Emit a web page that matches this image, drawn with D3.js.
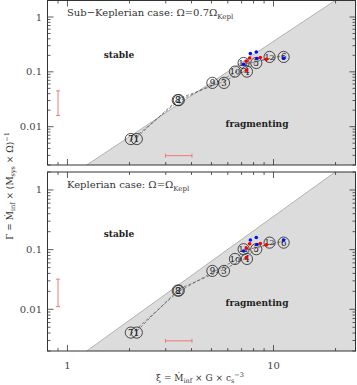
<!DOCTYPE html>
<html><head><meta charset="utf-8">
<script src="https://cdn.jsdelivr.net/npm/d3@7"></script>
<style>body{margin:0;background:#fff}svg{display:block}</style>
</head><body>
<svg id="c" width="357" height="385"></svg>
<script>
// ---- data ----
const idsA = [1, 2, 3, 4, 5, 6];
const idsB = [7, 8, 9, 10, 11, 12];
const xiA = [2.17, 3.47, 5.75, 7.43, 8.25, 11.2];
const xiB = [2.03, 3.43, 5.05, 6.50, 7.16, 9.57];
const gammaSub = [0.00595, 0.0305, 0.0629, 0.101, 0.145, 0.187];
const gammaKep = [0.00407, 0.0206, 0.0440, 0.0698, 0.1016, 0.131];
const xiBlue = [7.72, 8.25, 7.16, 8.31, 11.19];
const gammaSubBlue = [0.215, 0.230, 0.137, 0.175, 0.177];
const gammaKepBlue = [0.145, 0.160, 0.095, 0.122, 0.145];
const xiRed = [7.66, 7.38, 7.38, 8.63, 9.23];
const gammaSubRed = [0.179, 0.156, 0.107, 0.182, 0.169];
const gammaKepRed = [0.125, 0.1056, 0.074, 0.127, 0.120];
const boundaryXi = [1.24, 19.9];
const boundaryGamma = [0.002, 2];
const errVx = 0.90;
const errVySub = [0.016, 0.045];
const errVyKep = [0.0111, 0.032];
const errHx = [2.99, 4.02];
const errHy = 0.00296;
const xTicks = [1, 10];
const yTicks = [1, 0.1, 0.01];
const xDomain = [0.8, 25];
const yDomain = [0.002, 2];

const svg = d3.select("#c");
const L = 47.5, R = 355.5;
const x = d3.scaleLog().domain(xDomain).range([L, R]);
const serif = "'DejaVu Serif', serif";

const panels = [
  {top: 0.5, bottom: 165, gamma: gammaSub, blue: gammaSubBlue, red: gammaSubRed, errVy: errVySub,
   title: ["Sub\u2212Keplerian case: \u03A9=0.7\u03A9", "Kepl"], stableY: 58, fragY: 127, titleY: 16, xlabels: false},
  {top: 172, bottom: 351, gamma: gammaKep, blue: gammaKepBlue, red: gammaKepRed, errVy: errVyKep,
   title: ["Keplerian case: \u03A9=\u03A9", "Kepl"], stableY: 237, fragY: 306, titleY: 188, xlabels: true}
];

panels.forEach((p, pi) => {
  const y = d3.scaleLog().domain(yDomain).range([p.bottom, p.top]);
  const g = svg.append("g");
  const cid = "clip" + pi;
  svg.append("clipPath").attr("id", cid).append("rect")
    .attr("x", L).attr("y", p.top).attr("width", R - L).attr("height", p.bottom - p.top);
  const pg = g.append("g").attr("clip-path", `url(#${cid})`);

  // fragmenting region: below the boundary line
  const bx0 = x(boundaryXi[0]), by0 = y(boundaryGamma[0]);
  const bx1 = x(boundaryXi[1]), by1 = y(boundaryGamma[1]);
  const slope = (by1 - by0) / (bx1 - bx0);
  const ext = 400;
  const pts = [[bx0 - ext, by0 - ext * slope], [bx1 + ext, by1 + ext * slope], [R + ext, p.bottom + ext], [L - ext, p.bottom + ext]];
  pg.append("path").attr("d", "M" + pts.map(d => d.join(",")).join("L") + "Z")
    .attr("fill", "#dcdcdc");
  pg.append("line").attr("x1", pts[0][0]).attr("y1", pts[0][1]).attr("x2", pts[1][0]).attr("y2", pts[1][1])
    .attr("stroke", "#9a9a9a").attr("stroke-width", 0.7);

  // dashed connecting lines
  const line = d3.line().x(d => x(d[0])).y(d => y(d[1]));
  [xiA, xiB].forEach((xs, si) => {
    pg.append("path").datum(xs.map((v, i) => [v, p.gamma[i]]))
      .attr("d", line).attr("fill", "none").attr("stroke", "#555")
      .attr("stroke-width", 0.7).attr("stroke-dasharray", "3,2")
      .attr("transform", si === 0 ? "translate(0,-1.5)" : "translate(0,1.5)");
  });

  // circled simulation numbers
  const circ = [];
  idsB.forEach((id, i) => circ.push({id, xi: xiB[i], ga: p.gamma[i]}));
  idsA.forEach((id, i) => circ.push({id, xi: xiA[i], ga: p.gamma[i]}));
  const cg = pg.selectAll("g.c").data(circ).join("g")
    .attr("transform", d => `translate(${x(d.xi)},${y(d.ga)})`);
  cg.append("circle").attr("r", 5.6).attr("fill", "none").attr("stroke", "#222").attr("stroke-width", 0.8);
  cg.append("text").text(d => d.id).attr("text-anchor", "middle").attr("dy", "0.35em")
    .attr("font-family", serif).attr("font-size", d => d.id >= 10 ? 8 : 8.5).attr("fill", "#111");

  // red & blue dots
  pg.selectAll("circle.b").data(xiBlue.map((v, i) => [v, p.blue[i]])).join("circle")
    .attr("cx", d => x(d[0])).attr("cy", d => y(d[1])).attr("r", 1.8).attr("fill", "#0010ff");
  pg.selectAll("circle.r").data(xiRed.map((v, i) => [v, p.red[i]])).join("circle")
    .attr("cx", d => x(d[0])).attr("cy", d => y(d[1])).attr("r", 1.8).attr("fill", "#ff0000");

  // error bars
  const ec = "#f07878";
  const ex = x(errVx), ey0 = y(p.errVy[0]), ey1 = y(p.errVy[1]);
  pg.append("line").attr("x1", ex).attr("x2", ex).attr("y1", ey0).attr("y2", ey1).attr("stroke", ec);
  [ey0, ey1].forEach(v => pg.append("line").attr("x1", ex - 2).attr("x2", ex + 2).attr("y1", v).attr("y2", v).attr("stroke", ec));
  const hy = y(errHy), hx0 = x(errHx[0]), hx1 = x(errHx[1]);
  pg.append("line").attr("x1", hx0).attr("x2", hx1).attr("y1", hy).attr("y2", hy).attr("stroke", ec);
  [hx0, hx1].forEach(v => pg.append("line").attr("x1", v).attr("x2", v).attr("y1", hy - 2).attr("y2", hy + 2).attr("stroke", ec));

  // ticks
  const tc = "#333";
  const xt = [];
  for (let d = 0.1; d <= 10; d *= 10) for (let k = 1; k <= 9; k++) { const v = +(k * d).toPrecision(3); if (v >= xDomain[0] && v <= xDomain[1]) xt.push({v, major: k === 1}); }
  xt.forEach(t => {
    const len = t.major ? 6 : 3, px = x(t.v);
    g.append("line").attr("x1", px).attr("x2", px).attr("y1", p.bottom).attr("y2", p.bottom - len).attr("stroke", tc).attr("stroke-width", 0.8);
    g.append("line").attr("x1", px).attr("x2", px).attr("y1", p.top).attr("y2", p.top + len).attr("stroke", tc).attr("stroke-width", 0.8);
  });
  const yt = [];
  for (let d = 0.001; d <= 1; d *= 10) for (let k = 1; k <= 9; k++) { const v = +(k * d).toPrecision(3); if (v >= yDomain[0] && v <= yDomain[1]) yt.push({v, major: k === 1}); }
  yt.forEach(t => {
    const len = t.major ? 6 : 3, py = y(t.v);
    g.append("line").attr("x1", L).attr("x2", L + len).attr("y1", py).attr("y2", py).attr("stroke", tc).attr("stroke-width", 0.8);
    g.append("line").attr("x1", R).attr("x2", R - len).attr("y1", py).attr("y2", py).attr("stroke", tc).attr("stroke-width", 0.8);
  });
  yTicks.forEach(v => g.append("text").text(v).attr("x", 42).attr("y", y(v)).attr("dy", "0.35em")
    .attr("text-anchor", "end").attr("font-family", serif).attr("font-size", 10).attr("fill", "#444"));
  if (p.xlabels) xTicks.forEach(v => g.append("text").text(v).attr("x", x(v)).attr("y", p.bottom + 18)
    .attr("text-anchor", "middle").attr("font-family", serif).attr("font-size", 10).attr("fill", "#444"));

  // frame
  g.append("rect").attr("x", L).attr("y", p.top).attr("width", R - L).attr("height", p.bottom - p.top)
    .attr("fill", "none").attr("stroke", "#333").attr("stroke-width", 1);

  // texts
  const t = g.append("text").attr("x", 67).attr("y", p.titleY).attr("font-family", serif).attr("font-size", 10).attr("fill", "#333");
  t.append("tspan").text(p.title[0]);
  t.append("tspan").text(p.title[1]).attr("font-size", 7).attr("dy", 3);
  g.append("text").text("stable").attr("x", 119).attr("y", p.stableY).attr("text-anchor", "middle")
    .attr("font-family", serif).attr("font-weight", "bold").attr("font-size", 9).attr("fill", "#222");
  g.append("text").text("fragmenting").attr("x", 257).attr("y", p.fragY).attr("text-anchor", "middle")
    .attr("font-family", serif).attr("font-weight", "bold").attr("font-size", 9).attr("fill", "#222");
});

// axis labels
const xl = svg.append("text").attr("x", 200).attr("y", 381).attr("text-anchor", "middle")
  .attr("font-family", serif).attr("font-size", 9).attr("fill", "#333");
xl.append("tspan").text("\u03BE = \u1E40");
xl.append("tspan").text("inf").attr("font-size", 6.5).attr("dy", 2);
xl.append("tspan").text(" \u00D7 G \u00D7 c").attr("dy", -2);
xl.append("tspan").text("s").attr("font-size", 6.5).attr("dy", 2);
xl.append("tspan").text("\u22123").attr("font-size", 6.5).attr("dy", -6);

const yl = svg.append("text").attr("transform", "translate(13,186) rotate(-90)").attr("text-anchor", "middle")
  .attr("font-family", serif).attr("font-size", 9).attr("fill", "#333");
yl.append("tspan").text("\u0393 = \u1E40");
yl.append("tspan").text("inf").attr("font-size", 6.5).attr("dy", 2);
yl.append("tspan").text(" \u00D7 (M").attr("dy", -2);
yl.append("tspan").text("sys").attr("font-size", 6.5).attr("dy", 2);
yl.append("tspan").text(" \u00D7 \u03A9)").attr("dy", -2);
yl.append("tspan").text("\u22121").attr("font-size", 6.5).attr("dy", -4);
</script>
</body></html>
